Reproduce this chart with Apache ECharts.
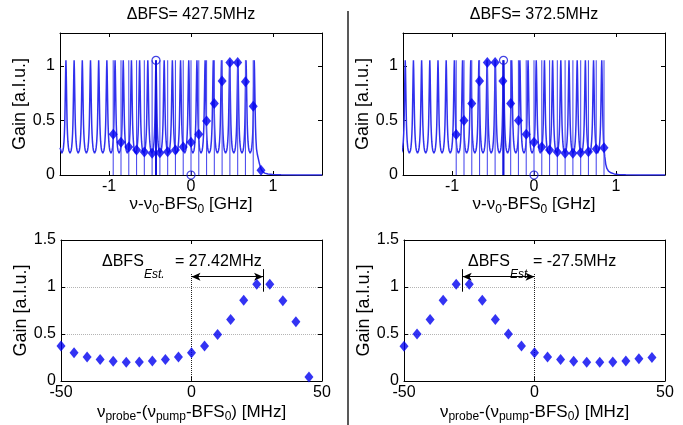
<!DOCTYPE html>
<html><head><meta charset="utf-8">
<script src="https://cdn.jsdelivr.net/npm/echarts@6/dist/echarts.min.js"></script>
<style>html,body{margin:0;padding:0;background:#fff}#c{width:683px;height:425px}</style>
</head><body><div id="c"></div>
<script>
// ---------------- data ----------------
const titles = ['ΔBFS= 427.5MHz', 'ΔBFS= 372.5MHz'];
const topTickX = [-1, 0, 1];
const topTickY = [0, 0.5, 1];
// comb peak centres [GHz]
const leftPeaks = [-1.5275,-1.4275,-1.3275,-1.2275,-1.1275,-1.0275,-0.9275,-0.8275,-0.7275,-0.6275,-0.5275,-0.4275,-0.3275,-0.2275,-0.1275,-0.0275,0.0725,0.1725,0.2725,0.3725,0.4725,0.5725,0.6725,0.7725];
const rightPeaks = [-1.5725,-1.4725,-1.3725,-1.2725,-1.1725,-1.0725,-0.9725,-0.8725,-0.7725,-0.6725,-0.5725,-0.4725,-0.3725,-0.2725,-0.1725,-0.0725,0.0275,0.1275,0.2275,0.3275,0.4275,0.5275,0.6275,0.7275,0.8275];
// one period of the comb: [offset from centre GHz, gain]
const peakProfile = [[-0.05,0.2],[-0.043,0.208],[-0.036,0.225],[-0.03,0.255],[-0.024,0.305],[-0.019,0.375],[-0.015,0.46],[-0.012,0.56],[-0.009,0.69],[-0.006,0.83],[-0.003,0.97],[0,1.05],[0.003,0.97],[0.006,0.83],[0.009,0.69],[0.012,0.56],[0.015,0.46],[0.019,0.375],[0.024,0.305],[0.03,0.255],[0.036,0.225],[0.043,0.208]];
const leftLead = [[-1.6,0.25]];
const leftTail = [[0.7755,0.97],[0.7785,0.83],[0.7815,0.69],[0.7845,0.56],[0.788,0.44],[0.793,0.33],[0.8,0.24],[0.81,0.19],[0.822,0.15],[0.837,0.1],[0.855,0.055],[0.875,0.03],[0.9,0.017],[0.94,0.009],[1.0,0.004],[1.1,0.0015],[1.3,0.0005],[1.6,0]];
const rightTail = [[0.8305,0.97],[0.8335,0.83],[0.8365,0.69],[0.8395,0.56],[0.843,0.44],[0.848,0.33],[0.855,0.24],[0.864,0.17],[0.876,0.1],[0.89,0.06],[0.91,0.035],[0.94,0.02],[0.98,0.01],[1.03,0.005],[1.12,0.002],[1.3,0.0005],[1.6,0]];
// sampled gain points
const diamondX = [-0.95,-0.855,-0.76,-0.665,-0.57,-0.475,-0.38,-0.285,-0.19,-0.095,0,0.095,0.19,0.285,0.38,0.475,0.57,0.665,0.76,0.855];
const leftStemX = [-0.95,-0.855,-0.76,-0.665,-0.57,-0.475,-0.38,-0.285,-0.19,-0.095,0,0.095,0.19,0.285,0.38,0.475,0.57,0.665,0.76];
const rightStemX = [-0.95,-0.855,-0.76,-0.665,-0.57,-0.475,-0.38,-0.285,-0.19,-0.095,0,0.095,0.19,0.285,0.38,0.475,0.57,0.665,0.76,0.855];
const stemTop = 1.05;
const leftCircles = [[-0.4275,1.05],[0,0]];
const rightCircles = [[-0.3725,1.05],[0,0]];
const probeOffset = [-50,-45,-40,-35,-30,-25,-20,-15,-10,-5,0,5,10,15,20,25,30,35,40,45];
const leftGain = [0.373,0.30,0.256,0.23,0.21,0.2,0.203,0.213,0.23,0.256,0.30,0.373,0.494,0.654,0.86,1.03,1.03,0.853,0.63,0.043];
const rightGain = [0.37,0.50,0.654,0.86,1.03,1.03,0.86,0.654,0.50,0.373,0.30,0.256,0.23,0.21,0.2,0.2,0.203,0.213,0.238,0.249];
const estBFS = [27.42, -27.5];
const estText = ['= 27.42MHz', '= -27.5MHz'];

// ---------------- build ----------------
const FONT = '"Liberation Sans", Arial, sans-serif';
const BLUE = '#0000f0';
const COMB = '#3030ee';

function buildComb(lead, peaks, tail) {
  const pts = lead.slice();
  peaks.forEach((c, k) => {
    const last = k === peaks.length - 1;
    peakProfile.forEach(([o, v]) => {
      if (last && o > 0) return;
      pts.push([+(c + o).toFixed(4), v]);
    });
  });
  tail.forEach(p => pts.push(p));
  return pts;
}

const grids = [
  {left: 60, top: 33, width: 262, height: 142},
  {left: 403, top: 33, width: 262, height: 142},
  {left: 61, top: 240, width: 261, height: 141},
  {left: 404, top: 240, width: 261, height: 141}
];

const axLine = {show: true, onZero: false, lineStyle: {color: '#000', width: 1}};
const tickStyle = {color: '#000', width: 1};
const lblStyle = {color: '#000', fontSize: 16, fontFamily: FONT};

const topXName = '{n|ν-ν}{s|0}{n|-BFS}{s|0}{n| [GHz]}';
const botXName = '{n|ν}{s|probe}{n|-(ν}{s|pump}{n|-BFS}{s|0}{n|) [MHz]}';
const nameRich = {
  n: {fontSize: 17, fontFamily: FONT, color: '#000', lineHeight: 22, verticalAlign: 'middle'},
  s: {fontSize: 12, fontFamily: FONT, color: '#000', lineHeight: 11, verticalAlign: 'bottom'}
};

const xAxis = [], yAxis = [];
grids.forEach((g, gi) => {
  const isTop = gi < 2;
  const xr = isTop ? {min: -1.6, max: 1.6} : {min: -50, max: 50, interval: 50};
  const yr = isTop ? {min: 0, max: 1.3} : {min: 0, max: 1.5, interval: 0.5};
  const xt = isTop ? {customValues: topTickX} : {};
  const yt = isTop ? {customValues: topTickY} : {};
  xAxis.push(Object.assign({type: 'value', gridIndex: gi, position: 'bottom', axisLine: axLine,
    axisTick: Object.assign({inside: true, length: 4, lineStyle: tickStyle}, xt),
    axisLabel: Object.assign({}, lblStyle, {margin: 4}, xt),
    splitLine: {show: false},
    name: isTop ? topXName : botXName, nameLocation: 'middle', nameGap: isTop ? 18 : 20,
    nameTextStyle: {rich: nameRich}}, xr));
  xAxis.push(Object.assign({type: 'value', gridIndex: gi, position: 'top', axisLine: axLine,
    axisTick: Object.assign({inside: true, length: 4, lineStyle: tickStyle}, xt),
    axisLabel: Object.assign({show: false}, xt), splitLine: {show: false}}, xr));
  yAxis.push(Object.assign({type: 'value', gridIndex: gi, position: 'left', axisLine: axLine,
    axisTick: Object.assign({inside: true, length: 4, lineStyle: tickStyle}, yt),
    axisLabel: Object.assign({}, lblStyle, {margin: 5}, yt),
    splitLine: {show: !isTop, lineStyle: {color: '#b4b4b4', type: 'dotted', width: 1}},
    name: 'Gain [a.l.u.]', nameLocation: 'middle', nameGap: (gi % 2 === 0) ? 25 : 28,
    nameTextStyle: {color: '#000', fontSize: 18, fontFamily: FONT}}, yr));
  yAxis.push(Object.assign({type: 'value', gridIndex: gi, position: 'right', axisLine: axLine,
    axisTick: Object.assign({inside: true, length: 4, lineStyle: tickStyle}, yt),
    axisLabel: Object.assign({show: false}, yt), splitLine: {show: false}}, yr));
});

function stemSeries(ai, xs, top, color, width, z) {
  return {type: 'custom', xAxisIndex: ai, yAxisIndex: ai, z: z, clip: true,
    data: xs.map(x => [x, top]),
    renderItem: (params, api) => {
      const p0 = api.coord([api.value(0), 0]);
      const p1 = api.coord([api.value(0), api.value(1)]);
      return {type: 'line', shape: {x1: p0[0], y1: p0[1], x2: p1[0], y2: p1[1]},
        style: {stroke: color, lineWidth: width}};
    }};
}

function topSeries(ai, lead, peaks, tail, stems, gains, circles) {
  return [
    {type: 'line', xAxisIndex: ai, yAxisIndex: ai, data: buildComb(lead, peaks, tail), showSymbol: false,
      lineStyle: {color: COMB, width: 1.5}, z: 2, animation: false},
    stemSeries(ai, stems, stemTop, '#5050ee', 1.1, 3),
    stemSeries(ai, [circles[0][0]], circles[0][1], '#1414dd', 2, 4),
    {type: 'scatter', xAxisIndex: ai, yAxisIndex: ai, data: diamondX.map((x, i) => [x, gains[i]]),
      symbol: 'diamond', symbolSize: [9, 11], itemStyle: {color: BLUE}, z: 5},
    {type: 'scatter', xAxisIndex: ai, yAxisIndex: ai, data: circles, symbol: 'circle', symbolSize: 8,
      itemStyle: {color: 'rgba(0,0,0,0)', borderColor: '#1414dd', borderWidth: 1.2}, z: 6}
  ];
}

function bottomSeries(ai, gains, est) {
  return [{type: 'scatter', xAxisIndex: ai, yAxisIndex: ai, data: probeOffset.map((x, i) => [x, gains[i]]),
    symbol: 'diamond', symbolSize: [9, 11], itemStyle: {color: BLUE}, z: 5,
    markLine: {silent: true, symbol: ['none', 'none'], label: {show: false}, animation: false,
      lineStyle: {color: '#000', width: 1, type: 'solid'},
      data: [
        [{coord: [0, 0], lineStyle: {type: 'dotted', color: '#222', width: 1}}, {coord: [0, 1.15]}],
        [{coord: [0, 1.11], symbol: 'arrow', symbolSize: [6, 9]}, {coord: [est, 1.11], symbol: 'arrow', symbolSize: [6, 9]}],
        [{coord: [est, 0.95]}, {coord: [est, 1.19]}]
      ]}}];
}

const series = [].concat(
  topSeries(0, leftLead, leftPeaks, leftTail, leftStemX, leftGain, leftCircles),
  topSeries(2, [], rightPeaks, rightTail, rightStemX, rightGain, rightCircles),
  bottomSeries(4, leftGain, estBFS[0]),
  bottomSeries(6, rightGain, estBFS[1])
);

function txt(x, y, text, size, align, extra) {
  return {type: 'text', x: x, y: y, style: Object.assign({text: text, fill: '#000', fontSize: size,
    fontFamily: FONT, align: align, verticalAlign: 'middle'}, extra || {}), z: 100};
}

const graphic = [
  txt(191, 15, titles[0], 16, 'center'),
  txt(534, 15, titles[1], 16, 'center'),
  {type: 'line', shape: {x1: 348, y1: 11, x2: 348, y2: 425}, style: {stroke: '#222', lineWidth: 1.5}, z: 100},
  txt(102, 262, 'ΔBFS', 16, 'left'),
  txt(144, 275, 'Est.', 12, 'left', {fontStyle: 'italic'}),
  txt(175, 262, estText[0], 16, 'left'),
  txt(468, 262, 'ΔBFS', 16, 'left'),
  txt(510, 275, 'Est.', 12, 'left', {fontStyle: 'italic'}),
  txt(533, 262, estText[1], 16, 'left')
];

const chart = echarts.init(document.getElementById('c'));
chart.setOption({animation: false, backgroundColor: '#fff', grid: grids, xAxis: xAxis, yAxis: yAxis,
  series: series, graphic: graphic});
</script></body></html>
